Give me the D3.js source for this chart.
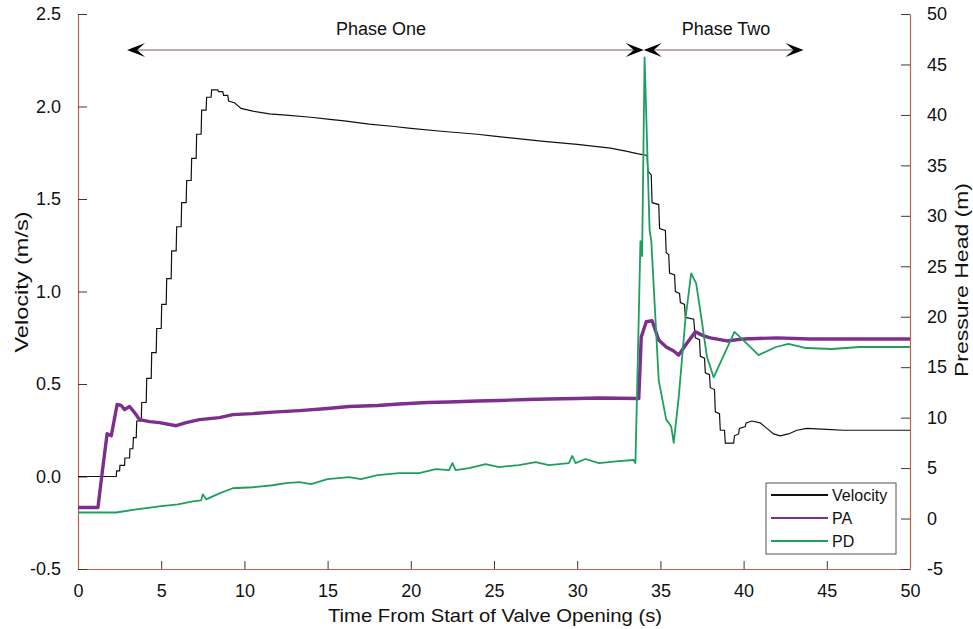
<!DOCTYPE html>
<html>
<head>
<meta charset="utf-8">
<script src="https://cdn.jsdelivr.net/npm/d3@7"></script>
<style>
  html, body { margin: 0; padding: 0; background: #fff; }
  svg { display: block; font-family: "Liberation Sans", Arial, sans-serif; }
</style>
</head>
<body>
<svg id="chart" width="973" height="629"></svg>
<script>
// ---- Data ----
const xTicks = [0, 5, 10, 15, 20, 25, 30, 35, 40, 45, 50];
const velocityTicks = [-0.5, 0.0, 0.5, 1.0, 1.5, 2.0, 2.5];
const pressureTicks = [-5, 0, 5, 10, 15, 20, 25, 30, 35, 40, 45, 50];
const seriesNames = ["Velocity", "PA", "PD"];
const phaseLabels = ["Phase One", "Phase Two"];
const phaseBounds = [[2.95, 34.0], [34.0, 43.6]];

// Velocity (m/s) — [time s, value]; stair steps written as point pairs
const velocity = [
  [0, 0.0], [2.3, 0.0], [2.32, 0.03], [2.5, 0.03], [2.52, 0.06], [2.8, 0.06],
  [2.82, 0.10], [3.1, 0.10], [3.12, 0.15], [3.3, 0.15], [3.33, 0.21], [3.5, 0.21],
  [3.53, 0.30], [3.8, 0.30], [3.83, 0.40], [4.1, 0.40], [4.13, 0.53], [4.4, 0.53],
  [4.43, 0.67], [4.7, 0.67], [4.73, 0.80], [5.0, 0.80], [5.03, 0.93], [5.3, 0.93],
  [5.33, 1.07], [5.6, 1.07], [5.63, 1.22], [5.9, 1.22], [5.93, 1.35], [6.2, 1.35],
  [6.23, 1.48], [6.5, 1.48], [6.53, 1.60], [6.8, 1.60], [6.83, 1.72], [7.1, 1.72],
  [7.13, 1.85], [7.4, 1.85], [7.43, 1.98], [7.7, 1.98], [7.73, 2.05], [8.0, 2.05],
  [8.03, 2.09], [8.4, 2.09], [8.45, 2.08], [8.7, 2.08], [8.75, 2.06], [9.0, 2.06],
  [9.05, 2.03], [9.4, 2.02], [9.8, 1.99], [10.5, 1.975], [11.5, 1.96], [12.5, 1.953],
  [14, 1.942], [15, 1.932], [16, 1.922], [17.5, 1.905], [19, 1.892], [20, 1.882],
  [22, 1.865], [24, 1.85], [25, 1.84], [26, 1.83], [28, 1.812], [30, 1.795],
  [32, 1.775], [33, 1.757], [33.6, 1.745], [34.2, 1.735], [34.25, 1.65], [34.45, 1.63],
  [34.5, 1.48], [34.9, 1.47], [34.95, 1.34], [35.3, 1.33], [35.35, 1.21], [35.5, 1.20],
  [35.55, 1.10], [35.85, 1.09], [35.9, 1.00], [36.15, 0.99], [36.2, 0.94], [36.45, 0.93],
  [36.5, 0.86], [37.0, 0.85], [37.1, 0.75], [37.35, 0.74], [37.4, 0.65], [37.65, 0.64],
  [37.7, 0.56], [37.95, 0.55], [38.0, 0.48], [38.25, 0.47], [38.3, 0.35], [38.55, 0.34],
  [38.6, 0.25], [38.85, 0.25], [38.9, 0.18], [39.4, 0.18], [39.45, 0.22], [39.7, 0.23],
  [39.75, 0.26], [40.1, 0.27], [40.15, 0.29], [40.5, 0.30], [41.0, 0.29], [41.4, 0.26],
  [41.8, 0.23], [42.2, 0.22], [42.7, 0.23], [43.2, 0.25], [43.8, 0.26], [45, 0.255],
  [46, 0.25], [48, 0.25], [50, 0.25]
];

// PA pressure head (m)
const pa = [
  [0, 1.1], [1.2, 1.1], [1.45, 4.5], [1.75, 8.4], [2.0, 8.2], [2.35, 11.3],
  [2.6, 11.2], [2.8, 10.8], [3.1, 11.1], [3.4, 10.5], [3.7, 9.8], [4.3, 9.6],
  [4.9, 9.5], [5.9, 9.2], [6.5, 9.5], [7.3, 9.8], [8.5, 10.0], [9.3, 10.3],
  [10.5, 10.4], [11.7, 10.55], [13.3, 10.7], [15, 10.9], [16.3, 11.1], [18, 11.2],
  [19.3, 11.35], [21, 11.5], [22.3, 11.55], [24, 11.65], [25.3, 11.7], [27, 11.8],
  [28.3, 11.85], [30, 11.9], [31.3, 11.95], [33.7, 11.9], [33.85, 18.0], [34.15, 19.5],
  [34.5, 19.6], [34.9, 17.7], [35.35, 17.0], [35.8, 16.6], [36.1, 16.2], [36.6, 17.4],
  [37.1, 18.5], [37.6, 18.1], [38.0, 17.9], [39.0, 17.6], [40, 17.8], [42, 17.9],
  [44, 17.8], [46, 17.8], [48, 17.8], [50, 17.8]
];

// PD pressure head (m)
const pd = [
  [0, 0.6], [2.3, 0.6], [3.5, 0.9], [4.9, 1.2], [6.0, 1.4], [6.9, 1.7], [7.4, 1.8],
  [7.5, 2.4], [7.7, 1.9], [8.5, 2.5], [9.3, 3.0], [10.5, 3.1], [11.7, 3.3], [12.5, 3.5],
  [13.3, 3.6], [14, 3.4], [15, 3.9], [16.3, 4.1], [17, 3.9], [18, 4.3], [19.3, 4.5],
  [20.5, 4.5], [21.5, 4.9], [22.3, 4.8], [22.5, 5.5], [22.7, 4.8], [23.5, 5.0], [24.5, 5.4],
  [25.3, 5.1], [26.5, 5.3], [27.5, 5.6], [28.3, 5.3], [29.5, 5.5], [29.7, 6.2], [29.9, 5.5],
  [30.5, 5.9], [31.3, 5.5], [32.5, 5.7], [33.4, 5.8], [33.5, 5.5], [33.7, 20],
  [33.8, 27.5], [33.9, 26], [34.05, 45.7], [34.35, 28.6], [34.45, 27.6], [34.9, 13.7],
  [35.35, 9.8], [35.5, 9.5], [35.65, 9.1], [35.8, 7.5], [36.1, 12.0], [36.5, 19.7],
  [36.85, 24.3], [37.15, 23.3], [37.45, 20.0], [37.8, 16.0], [38.2, 14.0], [38.95, 16.7],
  [39.45, 18.5], [40.15, 17.4], [40.9, 16.2], [41.95, 17.0], [42.7, 17.3], [43.75, 16.9],
  [45.3, 16.8], [47, 17.0], [50, 17.0]
];

// ---- Layout ----
const svg = d3.select("#chart");
const L = 78, R = 910, T = 14, B = 569;
const colors = { Velocity: "#141010", PA: "#7E2F8E", PD: "#1f9e61" };
const axisColor = "#c0604e";
const tickColor = "#3a3a3a";
const font = '"Liberation Sans", Arial, sans-serif';
const hyphen = f => d => f(d).replace("\u2212", "-");

const x = d3.scaleLinear().domain([0, 50]).range([L, R]);
const yL = d3.scaleLinear().domain([-0.5, 2.5]).range([B, T]);
const yR = d3.scaleLinear().domain([-5, 50]).range([B, T]);

// Axes
function styleAxis(g) {
  g.select(".domain").attr("stroke", axisColor).attr("stroke-width", 1.2);
  g.selectAll(".tick line").attr("stroke", tickColor).attr("stroke-width", 1);
  g.selectAll(".tick text").attr("fill", "#111").attr("font-size", 18).attr("font-family", font);
}

const gx = svg.append("g").attr("transform", `translate(0,${B})`)
  .call(d3.axisBottom(x).tickValues(xTicks).tickFormat(hyphen(d3.format("d")))
    .tickSizeInner(-8).tickSizeOuter(0).tickPadding(15));
styleAxis(gx);
gx.selectAll(".tick text").attr("dy", "0.71em");

const gl = svg.append("g").attr("transform", `translate(${L},0)`)
  .call(d3.axisLeft(yL).tickValues(velocityTicks).tickFormat(hyphen(d3.format(".1f")))
    .tickSizeInner(-9).tickSizeOuter(0).tickPadding(17));
styleAxis(gl);

const gr = svg.append("g").attr("transform", `translate(${R},0)`)
  .call(d3.axisRight(yR).tickValues(pressureTicks).tickFormat(hyphen(d3.format("d")))
    .tickSizeInner(-9).tickSizeOuter(0).tickPadding(17));
styleAxis(gr);

// Lines
const lineV = d3.line().x(d => x(d[0])).y(d => yL(d[1]));
const lineR = d3.line().x(d => x(d[0])).y(d => yR(d[1]));

svg.append("path").datum(velocity).attr("d", lineV)
  .attr("fill", "none").attr("stroke", colors.Velocity).attr("stroke-width", 1.2);
svg.append("path").datum(pa).attr("d", lineR)
  .attr("fill", "none").attr("stroke", colors.PA).attr("stroke-width", 3.4)
  .attr("stroke-linejoin", "round");
svg.append("path").datum(pd).attr("d", lineR)
  .attr("fill", "none").attr("stroke", colors.PD).attr("stroke-width", 1.8)
  .attr("stroke-linejoin", "round");

// Axis labels
svg.append("text").attr("x", 495).attr("y", 622).attr("text-anchor", "middle")
  .attr("font-size", 18.5).attr("font-family", font).attr("fill", "#111")
  .attr("textLength", 334).attr("lengthAdjust", "spacingAndGlyphs")
  .text("Time From Start of Valve Opening (s)");
svg.append("text").attr("transform", "translate(28,282) rotate(-90)")
  .attr("text-anchor", "middle").attr("font-size", 19).attr("font-family", font).attr("fill", "#111")
  .attr("textLength", 141).attr("lengthAdjust", "spacingAndGlyphs")
  .text("Velocity (m/s)");
svg.append("text").attr("transform", "translate(968,280) rotate(-90)")
  .attr("text-anchor", "middle").attr("font-size", 19).attr("font-family", font).attr("fill", "#111")
  .attr("textLength", 194).attr("lengthAdjust", "spacingAndGlyphs")
  .text("Pressure Head (m)");

// Phase arrows
const arrowY = 50;
function arrowHead(tipX, dir) {
  // dir = +1 pointing right, -1 pointing left
  const len = 18, half = 7, notch = 8;
  const p = [
    [tipX, arrowY],
    [tipX - dir * len, arrowY - half],
    [tipX - dir * (len - notch), arrowY],
    [tipX - dir * len, arrowY + half]
  ];
  svg.append("path").attr("d", "M" + p.map(q => q.join(",")).join("L") + "Z")
    .attr("fill", "#000");
}
phaseBounds.forEach((b, i) => {
  const x0 = x(b[0]), x1 = x(b[1]);
  svg.append("line").attr("x1", x0 + 4).attr("x2", x1 - 4)
    .attr("y1", arrowY).attr("y2", arrowY)
    .attr("stroke", "#7a5a50").attr("stroke-width", 1.2);
  arrowHead(x0, -1);
  arrowHead(x1, 1);
  svg.append("text").attr("x", i === 0 ? 381 : 726).attr("y", 35)
    .attr("text-anchor", "middle").attr("font-size", 18).attr("font-family", font)
    .attr("fill", "#111").text(phaseLabels[i]);
});

// Legend
const lg = svg.append("g");
lg.append("rect").attr("x", 766).attr("y", 483).attr("width", 130).attr("height", 71)
  .attr("fill", "#fff").attr("stroke", "#555").attr("stroke-width", 1);
seriesNames.forEach((name, i) => {
  const yy = 495 + i * 23;
  lg.append("line").attr("x1", 771).attr("x2", 828).attr("y1", yy).attr("y2", yy)
    .attr("stroke", colors[name]).attr("stroke-width", 2.2);
  lg.append("text").attr("x", 832).attr("y", yy).attr("dy", "0.35em")
    .attr("font-size", 16).attr("font-family", font).attr("fill", "#111").text(name);
});
</script>
</body>
</html>
